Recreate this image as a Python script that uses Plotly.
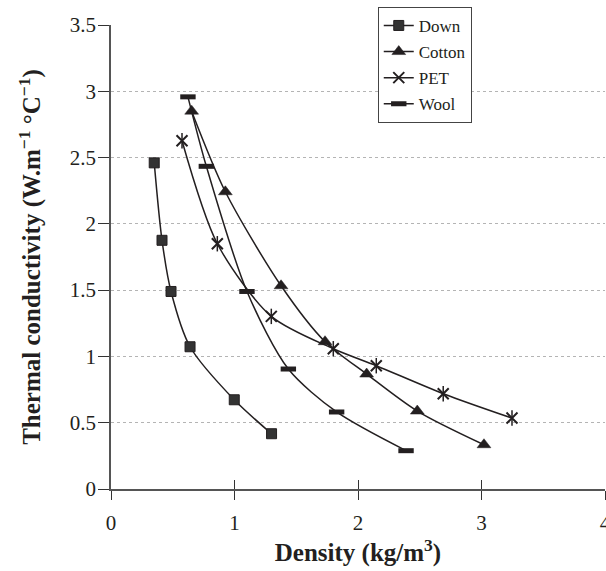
import plotly.graph_objects as go

# Thermal conductivity vs density for four fibre fillings
down_x = [0.35, 0.413, 0.486, 0.64, 0.998, 1.30]
down_y = [2.46, 1.876, 1.49, 1.073, 0.673, 0.417]

cotton_x = [0.653, 0.926, 1.377, 1.733, 2.07, 2.48, 3.02]
cotton_y = [2.85, 2.242, 1.533, 1.111, 0.867, 0.588, 0.334]

pet_x = [0.575, 0.861, 1.298, 1.80, 2.148, 2.69, 3.247]
pet_y = [2.627, 1.85, 1.302, 1.058, 0.93, 0.719, 0.535]

wool_x = [0.623, 0.772, 1.101, 1.436, 1.827, 2.389]
wool_y = [2.958, 2.434, 1.49, 0.905, 0.581, 0.289]

x_ticks = [0, 1, 2, 3, 4]
y_ticks = [0, 0.5, 1, 1.5, 2, 2.5, 3, 3.5]

INK = "#231f20"
FILL = "#333333"
SERIF = "Liberation Serif, Times New Roman, serif"
TICK_FONT = dict(family=SERIF, size=21, color=INK)
TITLE_FONT = dict(family=SERIF, size=25, color=INK)

fig = go.Figure()

def add_series(name, xs, ys, marker):
    fig.add_trace(go.Scatter(
        x=xs, y=ys, name=name, mode="lines+markers",
        legendgroup=name,
        line=dict(color=INK, width=1.5, shape="spline", smoothing=0.8),
        marker=marker,
    ))

add_series("Down", down_x, down_y,
           dict(symbol="square", size=10, color=FILL, line=dict(color=INK, width=1)))
add_series("Cotton", cotton_x, cotton_y,
           dict(symbol="triangle-up", size=12, color=INK, line=dict(color=INK, width=0.5)))
add_series("PET", pet_x, pet_y,
           dict(symbol="x-thin", size=11, color=INK, line=dict(color=INK, width=2)))
# vertical stroke that turns the PET cross into a star (on the twin x axis
# that carries the upward half of the crossing x ticks)
fig.add_trace(go.Scatter(
    x=pet_x, y=pet_y, mode="markers", legendgroup="PET", showlegend=False,
    hoverinfo="skip", xaxis="x2",
    marker=dict(symbol="line-ns", size=11, color=INK, line=dict(color=INK, width=1.5)),
))
add_series("Wool", wool_x, wool_y,
           dict(symbol="line-ew", size=11, color=INK, line=dict(color=INK, width=5)))

fig.update_layout(
    width=606, height=571,
    margin=dict(l=111, r=1, t=25, b=82, autoexpand=False),
    paper_bgcolor="white", plot_bgcolor="white",
    font=dict(family=SERIF, color=INK, size=21),
    showlegend=True,
    legend=dict(
        x=0.54, y=1.039, xanchor="left", yanchor="top",
        bgcolor="white", bordercolor="#444444", borderwidth=1,
        font=dict(family=SERIF, size=17, color=INK),
        tracegroupgap=1,
    ),
    xaxis=dict(
        range=[0, 4], tickvals=x_ticks, ticktext=[str(v) for v in x_ticks],
        tickfont=TICK_FONT, ticklabeloverflow="allow", automargin=False,
        showgrid=False, zeroline=False,
        showline=True, linecolor="#555555", linewidth=1.5,
        ticks="outside", ticklen=9, tickcolor="#333333", tickwidth=1,
        ticklabelstandoff=5,
        title=dict(text="<b>Density (kg/m<sup>3</sup>)</b>",
                   font=TITLE_FONT, standoff=8),
    ),
    xaxis2=dict(
        range=[0, 4], overlaying="x", anchor="y", matches="x",
        tickvals=x_ticks, showticklabels=False, automargin=False,
        showgrid=False, zeroline=False, showline=False,
        ticks="inside", ticklen=9, tickcolor="#333333", tickwidth=1,
    ),
    yaxis=dict(
        range=[0, 3.5], tickvals=y_ticks, ticktext=[f"{v:g}" for v in y_ticks],
        tickfont=TICK_FONT, automargin=False,
        showgrid=True, gridcolor="#b4b4b4", griddash="dot", gridwidth=1,
        zeroline=False,
        showline=True, linecolor="#555555", linewidth=1.5,
        ticks="outside", ticklen=11, tickcolor="#333333", tickwidth=1,
        ticklabelstandoff=-2,
        title=dict(text="<b>Thermal conductivity (W.m<sup>−1</sup> °C<sup>−1</sup>)</b>",
                   font=TITLE_FONT, standoff=22),
    ),
)

fig.write_html("out.html")
